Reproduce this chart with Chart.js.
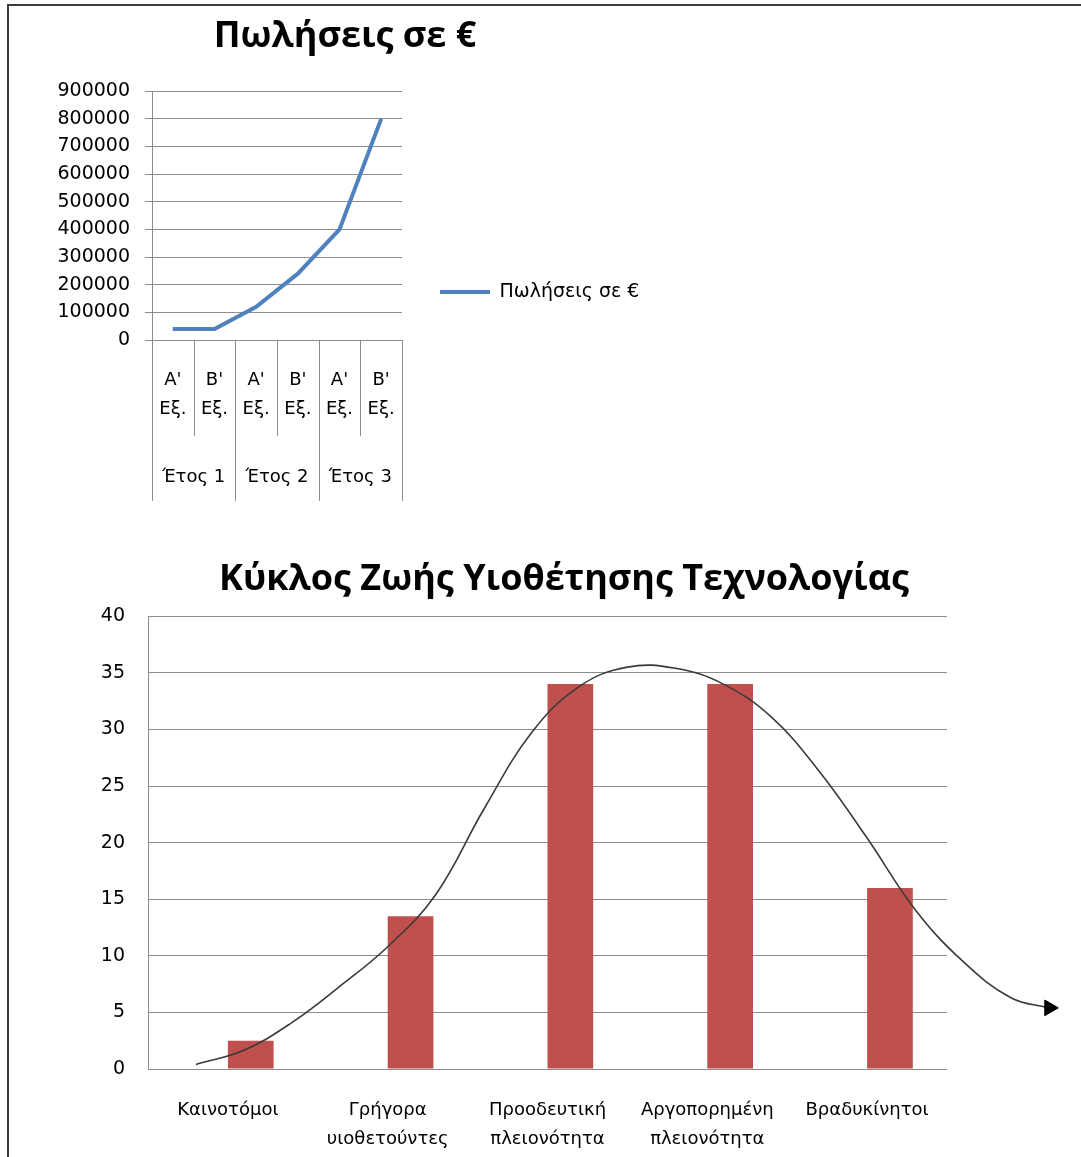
<!DOCTYPE html>
<html>
<head>
<meta charset="utf-8">
<script src="https://cdn.jsdelivr.net/npm/chart.js@4"></script>
<style>
  html, body { margin: 0; padding: 0; background: #fff; }
  body { width: 1081px; height: 1157px; position: relative; overflow: hidden; }
  #frame {
    position: absolute; left: 7px; top: 4px; width: 1200px; height: 1300px;
    border-left: 2px solid #3c3c3c; border-top: 2px solid #3c3c3c;
  }
  #salesChart { position: absolute; left: 0; top: 0; }
  #adoptionChart { position: absolute; left: 0; top: 540px; }
</style>
</head>
<body>
<div id="frame"></div>
<canvas id="salesChart" width="700" height="584"></canvas>
<canvas id="adoptionChart" width="1081" height="617"></canvas>
<script>
const TEXT_FONT = '"DejaVu Sans", sans-serif';
const TITLE_FONT = '"Open Sans", "Noto Sans", sans-serif';
const GRID = '#8c8c8c';

// sales per half-year
const halfYears = [["Α'", 'Εξ.'], ["Β'", 'Εξ.'], ["Α'", 'Εξ.'], ["Β'", 'Εξ.'], ["Α'", 'Εξ.'], ["Β'", 'Εξ.']];
const years = ['Έτος 1', 'Έτος 2', 'Έτος 3'];
const sales = [40000, 40000, 120000, 240000, 400000, 800000];
const salesMax = 900000;
const salesStep = 100000;

// adoption lifecycle
const stages = [['Καινοτόμοι'], ['Γρήγορα', 'υιοθετούντες'], ['Προοδευτική', 'πλειονότητα'], ['Αργοπορημένη', 'πλειονότητα'], ['Βραδυκίνητοι']];
const adopters = [2.5, 13.5, 34, 34, 16];
const emptySeries = [null, null, null, null, null];
// hand-drawn bell curve, x in category units (0 = first stage)
const bellX = [-0.2, 0.1, 0.4, 0.7, 1.0, 1.3, 1.6, 1.9, 2.2, 2.5, 2.8, 3.1, 3.4, 3.7, 4.0, 4.3, 4.6, 4.9, 5.14];
const bellY = [0.4, 1.65, 4.1, 7.3, 10.8, 15.4, 22.9, 29.7, 33.8, 35.5, 35.4, 34.0, 31.1, 26.3, 20.4, 14.1, 9.5, 6.3, 5.4];

// half-year separators + year labels under the x axis
const yearAxis = {
  id: 'yearAxis',
  afterDraw(chart) {
    const { ctx, chartArea } = chart;
    const x = chart.scales.x;
    const n = halfYears.length;
    const edge = i => i === 0 ? chartArea.left : i === n ? chartArea.right
      : (x.getPixelForValue(i - 1) + x.getPixelForValue(i)) / 2;
    ctx.save();
    ctx.strokeStyle = GRID;
    ctx.lineWidth = 1;
    for (let i = 0; i <= n; i++) {
      const px = Math.round(edge(i)) + 0.5;
      ctx.beginPath();
      ctx.moveTo(px, chartArea.bottom);
      ctx.lineTo(px, chartArea.bottom + (i % 2 === 0 ? 161 : 96));
      ctx.stroke();
    }
    ctx.fillStyle = '#000';
    ctx.font = '18px ' + TEXT_FONT;
    ctx.textAlign = 'center';
    ctx.textBaseline = 'middle';
    years.forEach((label, k) => {
      ctx.fillText(label, (edge(2 * k) + edge(2 * k + 2)) / 2, chartArea.bottom + 137);
    });
    ctx.restore();
  }
};

// the arrow head sits past the plot edge, so draw the last point without area check
const arrowHead = {
  id: 'arrowHead',
  afterDatasetsDraw(chart) {
    const meta = chart.getDatasetMeta(2);
    const tip = meta.data[meta.data.length - 1];
    if (tip) tip.draw(chart.ctx, { left: 0, top: 0, right: chart.width, bottom: chart.height });
  }
};

new Chart(document.getElementById('salesChart'), {
  type: 'line',
  data: {
    labels: halfYears,
    datasets: [{
      label: 'Πωλήσεις σε €',
      data: sales,
      borderColor: '#4F81BD',
      backgroundColor: '#4F81BD',
      borderWidth: 4,
      pointRadius: 0,
      tension: 0
    }]
  },
  plugins: [yearAxis],
  options: {
    responsive: false,
    animation: false,
    layout: { padding: { left: 52, right: 62, top: 0, bottom: 0 } },
    plugins: {
      tooltip: { enabled: false },
      title: {
        display: true,
        text: 'Πωλήσεις σε €',
        color: '#000',
        font: { family: TITLE_FONT, size: 36, weight: 'bold' },
        padding: { top: 15, bottom: 33 }
      },
      legend: {
        position: 'right',
        maxWidth: 236,
        labels: {
          usePointStyle: true,
          pointStyle: 'line',
          pointStyleWidth: 50,
          padding: 38,
          color: '#000',
          font: { family: TEXT_FONT, size: 19 }
        }
      }
    },
    scales: {
      x: {
        offset: true,
        grid: { display: false },
        border: { display: false },
        ticks: {
          color: '#000',
          font: { family: TEXT_FONT, size: 18, lineHeight: 1.6 },
          padding: 18,
          maxRotation: 0,
          autoSkip: false
        },
        afterFit: s => { s.height = 244; }
      },
      y: {
        min: 0,
        max: salesMax,
        grid: { color: GRID, tickLength: 7, tickColor: GRID },
        border: { display: true, color: GRID },
        ticks: {
          stepSize: salesStep,
          color: '#000',
          font: { family: TEXT_FONT, size: 19 },
          padding: 15,
          callback: v => String(v)
        },
        afterFit: s => { s.width = 100; }
      }
    }
  }
});

new Chart(document.getElementById('adoptionChart'), {
  type: 'bar',
  data: {
    datasets: [
      {
        data: emptySeries.map((v, i) => ({ x: i, y: v })),
        backgroundColor: 'rgba(0,0,0,0)',
        order: 1
      },
      {
        data: adopters.map((v, i) => ({ x: i, y: v })),
        backgroundColor: '#C0504D',
        order: 1
      },
      {
        type: 'line',
        data: bellX.map((x, i) => ({ x: x, y: bellY[i] })),
        yAxisID: 'yc',
        borderColor: '#3a3a3a',
        borderWidth: 1.6,
        tension: 0.4,
        clip: false,
        order: 0,
        pointStyle: 'triangle',
        pointRotation: 90,
        pointRadius: c => c.dataIndex === bellX.length - 1 ? 9 : 0,
        pointBackgroundColor: '#000',
        pointBorderColor: '#000',
        pointBorderWidth: 1
      }
    ]
  },
  plugins: [arrowHead],
  options: {
    responsive: false,
    animation: false,
    layout: { padding: { left: 47, right: 0, top: 0, bottom: 0 } },
    datasets: { bar: { categoryPercentage: 0.572, barPercentage: 1 } },
    plugins: {
      tooltip: { enabled: false },
      legend: { display: false },
      title: {
        display: true,
        text: 'Κύκλος Ζωής Υιοθέτησης Τεχνολογίας',
        color: '#000',
        font: { family: TITLE_FONT, size: 36, weight: 'bold' },
        padding: { top: 18, bottom: 15 }
      }
    },
    scales: {
      x: {
        type: 'linear',
        offset: false,
        afterDataLimits: s => { s.min = -0.5; s.max = stages.length - 0.5; },
        afterBuildTicks: s => { s.ticks = stages.map((_, i) => ({ value: i })); },
        grid: { display: false },
        border: { display: false },
        ticks: {
          color: '#000',
          font: { family: TEXT_FONT, size: 18, lineHeight: 1.6 },
          padding: 19,
          maxRotation: 0,
          autoSkip: false,
          callback: v => stages[v] || ''
        },
        afterFit: s => { s.height = 88; }
      },
      y: {
        min: 0,
        max: 40,
        grid: { color: GRID, drawTicks: false },
        border: { display: true, color: GRID },
        ticks: {
          stepSize: 5,
          color: '#000',
          font: { family: TEXT_FONT, size: 19 },
          padding: 23
        },
        afterFit: s => { s.width = 101; }
      },
      yc: {
        position: 'right',
        min: 0,
        max: 40,
        grid: { display: false },
        border: { display: false },
        ticks: { display: false },
        afterFit: s => { s.width = 134; }
      }
    }
  }
});
</script>
</body>
</html>
